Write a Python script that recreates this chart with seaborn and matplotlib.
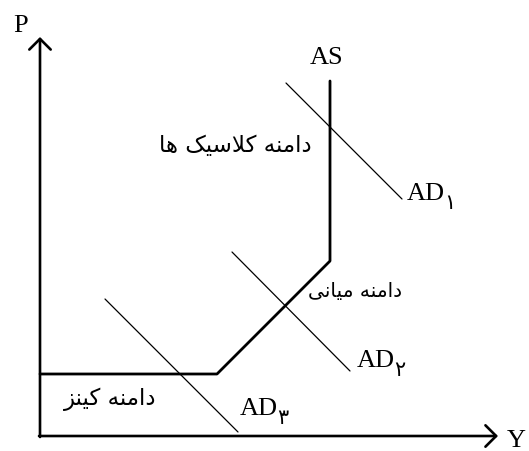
import matplotlib
matplotlib.use("Agg")
import matplotlib.pyplot as plt
import seaborn as sns
import pandas as pd

sns.set_theme(style="white")
plt.rcParams['font.family'] = ['Liberation Serif', 'DejaVu Sans']
plt.rcParams['text.color'] = 'black'

# diagram units: origin at the corner of the axes
as_x = [0, 177, 290, 290]
as_y = [62, 62, 175, 355]

ad_names = ['AD\u06f1', 'AD\u06f2', 'AD\u06f3']
ad_x0 = [246, 192, 65]
ad_y0 = [353, 184, 137]
ad_x1 = [362, 310, 198]
ad_y1 = [237, 65, 4]
ad_label_x = [367, 317, 200]
ad_label_y = [243, 76, 28]

# Persian labels, written in visual (shaped) order
region_labels = [
    '\uFE8E\uFEEB \uFB8F\uFBFF\uFEB3\uFEFC\uFB90 \uFEEA\uFEE8\uFEE3\uFE8D\uFEA9',  # دامنه کلاسیک ها
    '\uFBFD\uFEE7\uFE8E\uFBFF\uFEE3 \uFEEA\uFEE8\uFEE3\uFE8D\uFEA9',               # دامنه میانی
    '\uFEB0\uFEE8\uFBFF\uFB90 \uFEEA\uFEE8\uFEE3\uFE8D\uFEA9',                     # دامنه کینز
]
region_x = [195, 315, 70]
region_y = [292, 146, 38]
region_size = [16.5, 14.5, 16.5]

fig = plt.figure(figsize=(5.29, 4.52), dpi=100)
ax = fig.add_axes([0, 0, 1, 1])
ax.set_xlim(-40, 489)
ax.set_ylim(-15, 437)
ax.axis('off')

# axes with open arrow heads
arrow = dict(arrowstyle='->,head_length=0.35,head_width=0.35', lw=1.9,
             color='black', mutation_scale=22, shrinkA=0, shrinkB=0)
ax.annotate('', xy=(0, 399), xytext=(0, -1), arrowprops=arrow)
ax.annotate('', xy=(458, 0), xytext=(-1, 0), arrowprops=arrow)
ax.text(-19, 411, 'P', fontsize=19, ha='center', va='center')
ax.text(476, -4, 'Y', fontsize=19, ha='center', va='center')

df_as = pd.DataFrame({'x': as_x, 'y': as_y})
sns.lineplot(data=df_as, x='x', y='y', sort=False, estimator=None,
             color='black', lw=2.0, ax=ax)
ax.text(287, 379, 'AS', fontsize=19, ha='center', va='center')

for i, name in enumerate(ad_names):
    d = pd.DataFrame({'x': [ad_x0[i], ad_x1[i]], 'y': [ad_y0[i], ad_y1[i]]})
    sns.lineplot(data=d, x='x', y='y', sort=False, estimator=None,
                 color='black', lw=0.9, ax=ax)
    ax.text(ad_label_x[i], ad_label_y[i], 'AD', fontsize=19, ha='left', va='center')
    ax.text(ad_label_x[i] + 37, ad_label_y[i] - 9, name[2], fontsize=15,
            ha='left', va='center', family=['DejaVu Sans'])

for lab, x, y, s in zip(region_labels, region_x, region_y, region_size):
    ax.text(x, y, lab, fontsize=s, ha='center', va='center', family=['DejaVu Sans'])

fig.savefig('out.png', dpi=100)
